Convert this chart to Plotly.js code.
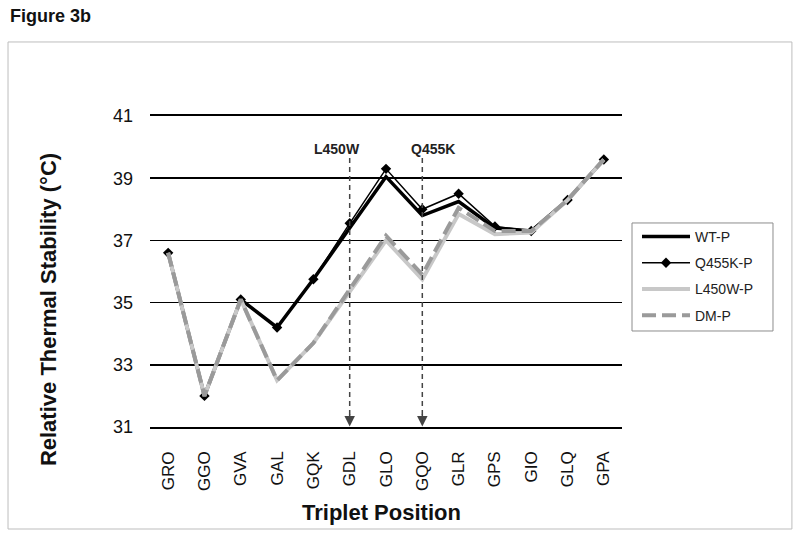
<!DOCTYPE html>
<html>
<head>
<meta charset="utf-8">
<script src="https://cdn.plot.ly/plotly-3.0.1.min.js"></script>
<style>html,body{margin:0;padding:0;background:#fff;}#chart{width:800px;height:545px;}</style>
</head>
<body>
<div id="chart"></div>
<script>
var categories = ['GRO','GGO','GVA','GAL','GQK','GDL','GLO','GQO','GLR','GPS','GIO','GLQ','GPA'];
var wtP    = [36.6, 32.0, 35.1, 34.2, 35.75, 37.4, 39.05, 37.8, 38.25, 37.4, 37.3, 38.3, 39.6];
var q455kP = [36.6, 32.0, 35.1, 34.2, 35.75, 37.55, 39.3, 38.0, 38.5, 37.45, 37.3, 38.3, 39.6];
var l450wP = [36.6, 32.0, 35.1, 32.5, 33.7, 35.35, 37.0, 35.75, 37.85, 37.2, 37.25, 38.3, 39.6];
var dmP    = [36.6, 32.0, 35.1, 32.5, 33.7, 35.45, 37.15, 35.9, 38.05, 37.3, 37.3, 38.3, 39.6];
var seriesNames = ['WT-P','Q455K-P','L450W-P','DM-P'];
var mutationLabels = ['L450W','Q455K'];
var mutationSites = ['GDL','GQO'];
var yTicks = [31, 33, 35, 37, 39, 41];

var FONT = 'Liberation Sans, Arial, sans-serif';

var traces = [
  {x: categories, y: wtP, name: seriesNames[0], mode: 'lines', legendgroup: 'a',
   line: {color: '#000000', width: 3.5}},
  {x: categories, y: q455kP, name: seriesNames[1], mode: 'lines+markers', legendgroup: 'b',
   line: {color: '#000000', width: 1.5},
   marker: {symbol: 'diamond', size: 8, color: '#000000'}},
  {x: categories, y: l450wP, name: seriesNames[2], mode: 'lines', legendgroup: 'c',
   line: {color: '#c8c8c8', width: 4}},
  {x: categories, y: dmP, name: seriesNames[3], mode: 'lines', legendgroup: 'd',
   line: {color: '#9a9a9a', width: 4, dash: '14px,6px'}}
];

var siteIdx = mutationSites.map(function(s){ return categories.indexOf(s); });

var shapes = [
  {type: 'rect', xref: 'paper', yref: 'paper', x0: -0.3008, x1: 1.360, y0: -0.328, y1: 1.238,
   line: {color: '#bdbdbd', width: 1}, fillcolor: 'rgba(0,0,0,0)', layer: 'below'},
  {type: 'rect', xref: 'paper', yref: 'paper', x0: 1.0212, x1: 1.3199, y0: 0.3087, y1: 0.656,
   line: {color: '#8c8c8c', width: 1}, fillcolor: '#ffffff', layer: 'below'}
];
siteIdx.forEach(function(i){
  shapes.push({type: 'line', xref: 'x', yref: 'y', x0: i, x1: i, y0: 39.65, y1: 31.3,
    line: {color: '#444444', width: 1.5, dash: '5px,4px'}});
});

var annotations = [
  {xref: 'paper', yref: 'paper', x: -0.30, y: 1.323, xanchor: 'left', yanchor: 'middle',
   text: '<b>Figure 3b</b>', showarrow: false, font: {family: FONT, size: 18, color: '#111'}},
  {xref: 'paper', yref: 'paper', x: -0.216, y: 0.376, xanchor: 'center', yanchor: 'middle',
   textangle: -90, text: '<b>Relative Thermal Stability (°C)</b>', showarrow: false,
   font: {family: FONT, size: 22, color: '#111'}},
  {xref: 'paper', yref: 'paper', x: 0.4915, y: -0.2765, xanchor: 'center', yanchor: 'middle',
   text: '<b>Triplet Position</b>', showarrow: false, font: {family: FONT, size: 22, color: '#111'}}
];
var labelOffsets = [-0.36, 0.30];
siteIdx.forEach(function(i, k){
  annotations.push({xref: 'x', yref: 'y', x: i + labelOffsets[k], y: 39.94,
    text: '<b>' + mutationLabels[k] + '</b>', showarrow: false,
    font: {family: FONT, size: 14, color: '#222'}});
  annotations.push({xref: 'x', yref: 'y', axref: 'x', ayref: 'y', x: i, y: 31.02, ax: i, ay: 31.45,
    text: '', showarrow: true, arrowhead: 2, arrowsize: 1.4, arrowwidth: 1.5, arrowcolor: '#444444'});
});

var layout = {
  width: 800, height: 545,
  margin: {l: 150, r: 178, t: 116, b: 118},
  paper_bgcolor: '#ffffff', plot_bgcolor: '#ffffff',
  font: {family: FONT, color: '#111'},
  showlegend: true,
  legend: {x: 1.0318, y: 0.6624, xanchor: 'left', yanchor: 'top',
    borderwidth: 0, bgcolor: 'rgba(0,0,0,0)',
    font: {family: FONT, size: 14, color: '#222'},
    traceorder: 'grouped', tracegroupgap: 5, itemwidth: 48},
  xaxis: {type: 'category', range: [-0.5, 12.5], showgrid: false, zeroline: false,
    showline: true, mirror: true, linecolor: '#000000', linewidth: 1.6,
    tickangle: -90, ticks: '', ticklabelstandoff: 16,
    tickfont: {family: FONT, size: 17, color: '#111'}, fixedrange: true},
  yaxis: {range: [31, 41], tickvals: yTicks, showgrid: true, gridcolor: '#000000', gridwidth: 1.6,
    zeroline: false, showline: false, ticks: '', ticklabelstandoff: 16,
    tickfont: {family: FONT, size: 18, color: '#111'}, fixedrange: true},
  shapes: shapes,
  annotations: annotations
};

Plotly.newPlot('chart', traces, layout, {displayModeBar: false, staticPlot: true});
</script>
</body>
</html>
